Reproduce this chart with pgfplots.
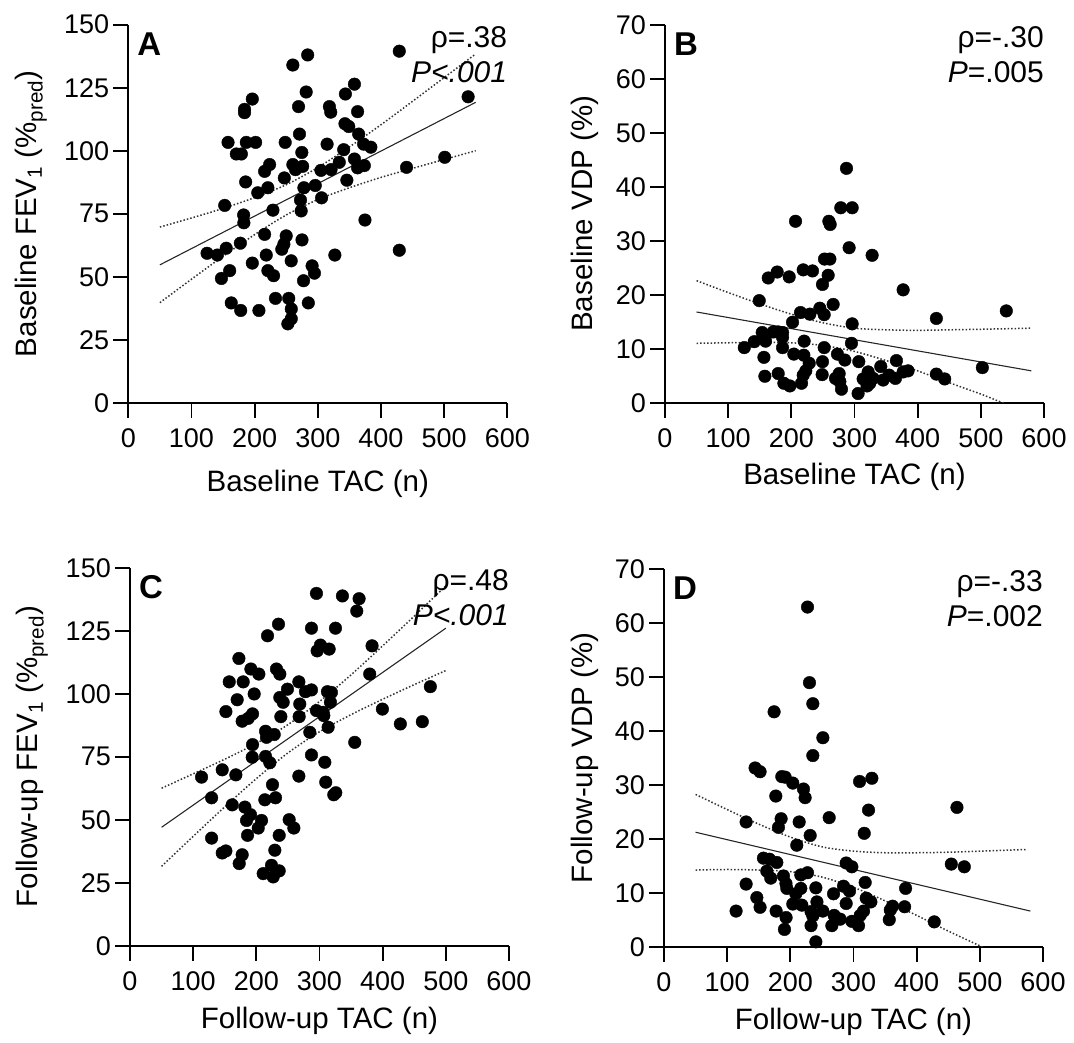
\documentclass[border=0pt]{standalone}
\usepackage{fontspec}
\setmainfont{Liberation Sans}
\usepackage{pgfplots}
\pgfplotsset{compat=1.18}

% one px of the reference = 1pt here
\pgfplotsset{
  panel/.style={
    scale only axis, width=379pt, height=378pt,
    anchor=south west,
    axis lines=left,
    axis line style={line width=1.8pt, -},
    tick style={line width=1.8pt, black},
    major tick length=15pt, tick align=outside,
    xmin=0, xmax=600, xtick={0,100,...,600},
    /pgf/number format/assume math mode=true,
    tick label style={font=\fontsize{27}{27}\selectfont},
    xticklabel style={inner sep=0pt, yshift=-11pt},
    yticklabel style={inner sep=0pt, xshift=-4pt},
    label style={font=\fontsize{29.5}{32}\selectfont},
    xlabel style={anchor=center},
    ylabel style={anchor=center, rotate=0},
    clip=true,
  },
  dots/.style={only marks, mark=*, mark size=6.3pt, black},
  fit/.style={no marks, line width=1.1pt, black!85},
  band/.style={no marks, dotted, line width=1.5pt, black!80, smooth},
}
\newcommand{\letter}[1]{\node[anchor=north west, inner sep=0pt, font=\fontsize{33}{33}\selectfont\bfseries]
  at (rel axis cs:0,1) [xshift=9pt, yshift=-8pt] {#1};}
\newcommand{\stats}[2]{\node[anchor=north east, inner sep=0pt, align=right, font=\fontsize{30}{35}\selectfont]
  at (rel axis cs:1,1) [yshift=-2pt] {#1\\#2};}

\begin{document}
\begin{tikzpicture}
\useasboundingbox (0,0) rectangle (1074pt,-1042pt);

% ---- A ----
\begin{axis}[panel, at={(128.3pt,-402.7pt)},
  ymin=0, ymax=150, ytick={0,25,...,150},
  xlabel={Baseline TAC (n)},
  ylabel={Baseline FEV\textsubscript{1} (\%\textsubscript{pred})},
  xlabel style={at={(axis description cs:0.5,-0.215)}},
  ylabel style={at={(axis description cs:-0.257,0.5)}}]
\addplot[dots] coordinates {
(284,138) (260.5,134) (429,139.5) (538,121.4) (358,126.4) (281.6,123.3)
(343.7,122.5) (196.3,120.5) (184,116.4) (184,115.1) (269.5,117.5) (318.4,117.5)
(320.5,115.3) (363,115.5) (343,110.7) (349,109.6) (271,106.6) (364.7,106.6)
(157.9,103.3) (186.8,103.3) (201.6,103.3) (248.4,103.3) (314.7,102.6) (372.6,102.6)
(384,101.4) (341,100.4) (274.7,99.3) (171,98.7) (179,98.7) (358,96.7)
(223.7,94.5) (260.5,94.5) (276,93.8) (264.7,92.5) (334,95.4) (321,92.5)
(305,92.2) (373.7,94.1) (363,93.2) (440.5,93.4) (501,97.4) (215.8,91.8)
(247,89.2) (346,88.3) (185.8,87.6) (221,85.3) (205,83.3) (278,85.3)
(296,86.2) (306,81.3) (272.6,80.4) (152.6,78.3) (273.7,76.1) (229,76.4)
(182.6,74.5) (183,71.4) (374.7,72.5) (215.8,66.8) (250,66.2) (275,64.6)
(246.3,62.9) (243,60.9) (155,61.3) (141,58.6) (124.7,59.3) (177.4,63.3)
(218.4,58.6) (327,58.6) (429,60.5) (196.3,55.4) (257.9,56.3) (291,54.3)
(294.7,51.4) (160.5,52.4) (147.4,49.3) (221,52.4) (230,50.4) (277.4,48.4)
(233,41.4) (254,41.4) (285,39.6) (163,39.6) (178,36.6) (206.8,36.6)
(258,37.2) (258,33.3) (252.6,31.3)};
\addplot[fit] coordinates {(50,54.7) (550,119.2)};
\addplot[band] coordinates {(50,69.7) (100,73.3) (150,77.1) (200,81.4) (250,86.5) (300,93.3)
  (350,101.5) (400,110.3) (450,119.6) (500,129.0) (550,138.4)};
\addplot[band] coordinates {(50,39.7) (100,49.0) (150,58.1) (200,66.7) (250,74.5) (300,80.6)
  (350,85.3) (400,89.4) (450,93.0) (500,96.5) (550,100.0)};
\letter{A}
\stats{ρ=.38}{\textit{P<.001}}
\end{axis}

% ---- B ----
\begin{axis}[panel, at={(665pt,-402.7pt)},
  ymin=0, ymax=70, ytick={0,10,...,70},
  xlabel={Baseline TAC (n)},
  ylabel={Baseline VDP (\%)},
  xlabel style={at={(axis description cs:0.5,-0.195)}},
  ylabel style={at={(axis description cs:-0.211,0.5)}}]
\addplot[dots] coordinates {
(287.3,43.4) (278.3,36.1) (296.3,36.1) (206.6,33.6) (259.4,33.6) (261.5,33.0)
(291.5,28.7) (327.9,27.3) (252.5,26.6) (261,26.6) (163.4,23.1) (177.6,24.2)
(196.6,23.3) (218.8,24.6) (233.5,24.4) (258.3,23.6) (249.3,21.9) (377,20.9)
(149.2,18.9) (266.2,18.2) (214.5,16.7) (229.3,16.4) (245.1,17.5) (252,16.3)
(429.6,15.6) (540.3,17.0) (201.9,14.9) (296.3,14.6) (153.9,13.0) (171.3,13.1)
(179.2,13.1) (186.1,13.0) (186.1,12.1) (141.3,11.3) (125.5,10.2) (159.2,11.4)
(220.3,11.4) (295.2,11.0) (186.1,10.2) (252,10.2) (204,9.0) (219.8,8.8)
(273,9.0) (156.6,8.4) (228.3,7.3) (249.3,7.6) (284.7,7.9) (306.8,7.6)
(366.4,7.8) (341.6,6.7) (502.4,6.5) (321.6,5.7) (222.9,5.9) (218.8,5.1)
(248.8,5.2) (275.7,5.4) (158.1,4.9) (179.2,5.4) (429.6,5.3) (442.8,4.4)
(384.8,5.9) (377,5.7) (354.8,5.1) (345.3,4.2) (364.8,4.5) (329.5,4.5)
(320,3.1) (313.7,4.4) (269.9,4.5) (279.4,2.5) (188.2,3.6) (197.7,3.1)
(216.1,3.6) (305.7,1.7) (324.2,3.6) (276.8,3.9)};
\addplot[fit] coordinates {(50,16.8) (580,5.9)};
\addplot[band] coordinates {(50,22.6) (100,20.4) (150,18.3) (200,16.4) (250,14.8) (300,13.8)
  (350,13.5) (400,13.4) (450,13.5) (500,13.6) (580,13.8)};
\addplot[band] coordinates {(50,11.0) (100,11.1) (150,11.2) (200,11.1) (250,10.6) (300,9.5)
  (350,7.8) (400,5.9) (450,3.7) (500,1.6) (532,0.1) (560,-1.2)};
\letter{B}
\stats{ρ=-.30}{\textit{P}=.005}
\end{axis}

% ---- C ----
\begin{axis}[panel, at={(130pt,-945.7pt)},
  ymin=0, ymax=150, ytick={0,25,...,150},
  xlabel={Follow-up TAC (n)},
  ylabel={Follow-up FEV\textsubscript{1} (\%\textsubscript{pred})},
  xlabel style={at={(axis description cs:0.5,-0.2)}},
  ylabel style={at={(axis description cs:-0.259,0.5)}}]
\addplot[dots] coordinates {
(295.2,139.8) (336.3,138.8) (362.7,137.7) (359,132.8) (235.1,127.6) (217.7,123.0)
(287.3,126.0) (325.3,126.0) (301.5,119.3) (296.3,117.0) (315.3,117.7) (383.2,119.0)
(172.4,114.0) (191.4,109.8) (204,107.8) (231.9,109.8) (237.2,107.8) (379.5,107.8)
(157.1,104.7) (179.2,104.7) (267.3,104.7) (249.3,101.8) (277.8,100.8) (287.3,101.5)
(312.6,100.8) (318.9,100.5) (475.5,102.8) (196.6,99.9) (169.7,97.6) (237.2,98.5)
(242.5,96.6) (268.8,95.9) (317.3,96.6) (151.8,92.9) (194,92.0) (187.1,90.2)
(177.6,89.1) (295.2,93.3) (305.7,92.6) (399.6,93.9) (238.8,90.9) (267.8,90.9)
(306.8,91.3) (428,88.0) (462.8,88.9) (313.7,86.7) (284.7,84.7) (214.6,85.1)
(228.3,83.8) (216.1,82.7) (355.8,80.7) (194,79.8) (193.5,74.8) (214.6,75.1)
(221.4,72.6) (287.3,75.7) (308.4,72.8) (113.3,66.9) (146,69.8) (167.6,67.8)
(267.3,67.3) (309.9,64.9) (225.6,63.9) (325.8,60.7) (322.6,59.9) (129.2,58.7)
(213.5,57.9) (230.4,58.7) (161.8,55.9) (181.9,55.0) (190.8,52.0) (184.5,49.7)
(208.2,49.7) (203,46.7) (252,50.0) (259.4,46.7) (129.2,42.7) (186.1,43.8)
(236.2,43.8) (146,36.8) (151.8,37.6) (177.6,36.1) (172.9,32.6) (229.3,37.9)
(210.9,28.6) (224,31.9) (236.2,29.7) (226.7,27.3)};
\addplot[fit] coordinates {(50,47.0) (500,126.0)};
\addplot[band] coordinates {(50,62.5) (100,68.2) (150,74.0) (200,80.3) (250,87.7) (300,96.9)
  (350,107.5) (400,119.0) (450,130.8) (500,142.8)};
\addplot[band] coordinates {(50,31.5) (100,43.4) (150,55.1) (200,66.3) (250,76.5) (300,84.9)
  (350,91.7) (400,97.8) (450,103.6) (500,109.2)};
\letter{C}
\stats{ρ=.48}{\textit{P<.001}}
\end{axis}

% ---- D ----
\begin{axis}[panel, at={(664pt,-946.7pt)},
  ymin=0, ymax=70, ytick={0,10,...,70},
  xlabel={Follow-up TAC (n)},
  ylabel={Follow-up VDP (\%)},
  xlabel style={at={(axis description cs:0.5,-0.2)}},
  ylabel style={at={(axis description cs:-0.208,0.5)}}]
\addplot[dots] coordinates {
(227.2,62.9) (230.3,48.9) (235.6,45.0) (174.3,43.5) (251.5,38.7) (235.6,35.4)
(144.2,33.1) (152.1,32.4) (186.5,31.5) (191.8,31.4) (203.9,30.3) (309.6,30.6)
(329.1,31.2) (220.8,29.2) (223.4,27.6) (177,27.9) (323.8,25.3) (463.8,25.8)
(185.4,23.7) (181.2,22.1) (214,23.1) (261.5,23.9) (130,23.1) (231.4,20.6)
(317,21.0) (210.2,18.8) (157.4,16.4) (167,16.2) (178.6,15.6) (288.4,15.5)
(297.4,14.8) (454.8,15.3) (475.4,14.8) (162.7,14.0) (169,12.7) (189.1,13.1)
(216.6,13.3) (227.2,13.7) (130,11.6) (193.1,11.7) (194.4,10.8) (216.6,10.8)
(240.4,10.9) (318.5,11.9) (284.2,11.2) (293.7,10.3) (382.5,10.8) (268.4,9.8)
(208.7,9.8) (147,9.1) (320.1,9.0) (327.5,8.3) (242.1,8.3) (203.9,7.9)
(218.2,7.7) (152.1,7.3) (288.4,8.0) (361.9,7.5) (380.9,7.4) (114.1,6.6)
(177.5,6.6) (232.8,6.5) (251.5,6.6) (315.9,6.6) (358.2,6.8) (269.4,5.8)
(278.9,5.1) (193.3,5.4) (235.6,5.7) (310.6,5.8) (356.6,5.0) (297.4,4.7)
(427.9,4.6) (232.8,3.9) (265.7,3.9) (308,3.9) (190.7,3.2) (240.4,0.9)};
\addplot[fit] coordinates {(50,21.2) (580,6.6)};
\addplot[band] coordinates {(50,28.2) (100,25.4) (150,22.7) (200,20.3) (250,18.5) (300,17.7)
  (350,17.4) (400,17.4) (450,17.5) (500,17.7) (575,18.0)};
\addplot[band] coordinates {(50,14.2) (100,14.3) (150,14.2) (200,13.9) (250,12.9) (300,11.0)
  (350,8.5) (400,5.8) (450,2.9) (503,0.0) (530,-1.5)};
\letter{D}
\stats{ρ=-.33}{\textit{P}=.002}
\end{axis}
\end{tikzpicture}
\end{document}
